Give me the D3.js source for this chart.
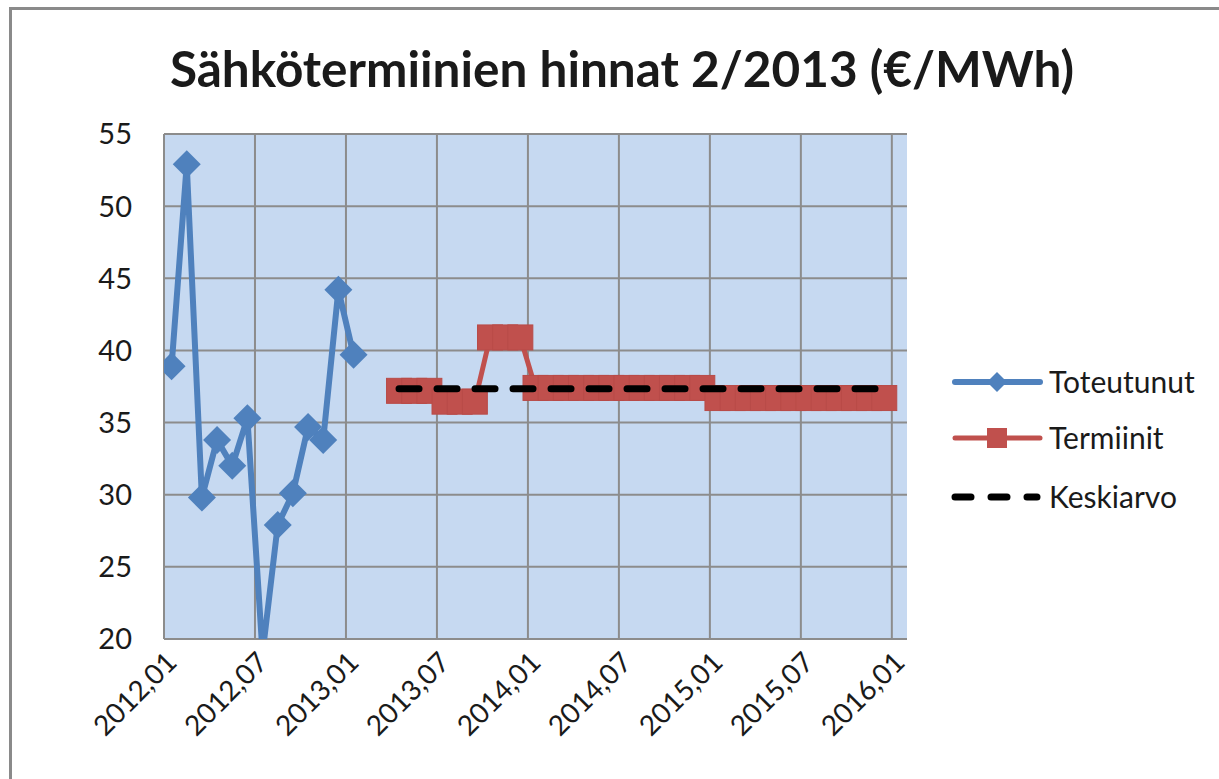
<!DOCTYPE html>
<meta charset="utf-8">
<title>Sähkötermiinien hinnat 2/2013</title>
<style>
  body { margin: 0; background: #fff; }
  text { font-family: Lato, "Open Sans", sans-serif; fill: #1a1a1a; }
  .grid line { stroke: #8c8c8c; stroke-width: 2px; }
</style>
<body>
<svg width="1219" height="779"></svg>
<script src="https://d3js.org/d3.v7.min.js"></script>
<script>
  // monthly categories on the x axis
  var firstMonth = new Date(2012, 0, 1),
      lastMonth = new Date(2016, 0, 1);
  var tickLabels = ["2012,01", "2012,07", "2013,01", "2013,07", "2014,01",
                    "2014,07", "2015,01", "2015,07", "2016,01"];
  var yTicks = [20, 25, 30, 35, 40, 45, 50, 55];

  // Toteutunut: realised monthly price, from 2012,01
  var toteutunutStart = new Date(2012, 0, 1);
  var toteutunut = [38.9, 52.9, 29.8, 33.8, 32.0, 35.3, 19.0, 27.9, 30.1, 34.7, 33.8, 44.2, 39.7];

  // Termiinit: forward prices per month, from 2013,04
  var termiinitStart = new Date(2013, 3, 1);
  var termiinit = [37.2, 37.2, 37.2,
                   36.45, 36.45, 36.45,
                   40.9, 40.9, 40.9,
                   37.4, 37.4, 37.4, 37.4, 37.4, 37.4, 37.4, 37.4, 37.4, 37.4, 37.4, 37.4,
                   36.7, 36.7, 36.7, 36.7, 36.7, 36.7, 36.7, 36.7, 36.7, 36.7, 36.7, 36.7];

  // Keskiarvo: average level over the forward months
  var keskiarvo = 37.35;

  var seriesNames = ["Toteutunut", "Termiinit", "Keskiarvo"];
  var blue = "#4f81bd", red = "#c0504d";

  var svg = d3.select("svg");

  // outer chart border
  svg.append("rect")
    .attr("x", 10.5).attr("y", 8.5)
    .attr("width", 1300).attr("height", 900)
    .attr("fill", "none")
    .attr("stroke", "#8a8a8a")
    .attr("stroke-width", 3);

  var plot = { left: 164, right: 907, top: 134, bottom: 639 };

  var months = d3.timeMonths(firstMonth, d3.timeMonth.offset(lastMonth, 1));
  var key = d3.timeFormat("%Y-%m");

  var x = d3.scaleBand()
    .domain(months.map(key))
    .range([plot.left, plot.right])
    .padding(0);
  var xc = function (d) { return x(key(d)) + x.bandwidth() / 2; };

  var y = d3.scaleLinear()
    .domain([20, 55])
    .range([plot.bottom, plot.top]);

  // plot background
  svg.append("rect")
    .attr("x", plot.left).attr("y", plot.top)
    .attr("width", plot.right - plot.left)
    .attr("height", plot.bottom - plot.top)
    .attr("fill", "#c6d9f1");

  var grid = svg.append("g").attr("class", "grid");

  grid.selectAll(".h")
    .data(yTicks)
    .enter().append("line")
    .attr("x1", plot.left).attr("x2", plot.right)
    .attr("y1", d => y(d)).attr("y2", d => y(d));

  var tickMonths = months.filter(function (d, i) { return i % 6 === 0; });

  grid.selectAll(".v")
    .data(tickMonths)
    .enter().append("line")
    .attr("x1", d => x(key(d))).attr("x2", d => x(key(d)))
    .attr("y1", plot.top).attr("y2", plot.bottom);

  // y labels
  svg.append("g").selectAll("text")
    .data(yTicks)
    .enter().append("text")
    .attr("x", 132)
    .attr("y", d => y(d))
    .attr("dy", "0.36em")
    .attr("text-anchor", "end")
    .style("font-size", "29px")
    .text(d => d);

  // x labels, rotated
  svg.append("g").selectAll("text")
    .data(tickMonths)
    .enter().append("text")
    .attr("transform", (d, i) => "translate(" + (xc(d) + 7) + ",664) rotate(-45)")
    .attr("text-anchor", "end")
    .style("font-size", "28px")
    .text((d, i) => tickLabels[i]);

  svg.append("clipPath").attr("id", "clip")
    .append("rect")
    .attr("x", plot.left).attr("y", plot.top)
    .attr("width", plot.right - plot.left)
    .attr("height", plot.bottom - plot.top);

  // Toteutunut
  var totData = toteutunut.map(function (v, i) {
    return { m: d3.timeMonth.offset(toteutunutStart, i), v: v };
  });
  var line = d3.line().x(d => xc(d.m)).y(d => y(d.v));
  var diamond = function (s) { return "M0," + (-s) + "L" + s + ",0L0," + s + "L" + (-s) + ",0Z"; };

  var gTot = svg.append("g").attr("clip-path", "url(#clip)");
  gTot.append("path")
    .datum(totData)
    .attr("d", line)
    .attr("fill", "none")
    .attr("stroke", blue)
    .attr("stroke-width", 6)
    .attr("stroke-linejoin", "round");
  gTot.selectAll(".dm")
    .data(totData)
    .enter().append("path")
    .attr("transform", d => "translate(" + xc(d.m) + "," + y(d.v) + ")")
    .attr("d", diamond(14))
    .attr("fill", blue);

  // Termiinit
  var terData = termiinit.map(function (v, i) {
    return { m: d3.timeMonth.offset(termiinitStart, i), v: v };
  });
  svg.append("path")
    .datum(terData)
    .attr("d", line)
    .attr("fill", "none")
    .attr("stroke", red)
    .attr("stroke-width", 5);
  svg.selectAll(".sq")
    .data(terData)
    .enter().append("rect")
    .attr("x", d => xc(d.m) - 12.5)
    .attr("y", d => y(d.v) - 12.5)
    .attr("width", 25).attr("height", 25)
    .attr("fill", red)
    .attr("stroke", "#b84b48")
    .attr("stroke-width", 1);

  // Keskiarvo
  svg.append("line")
    .attr("x1", xc(terData[0].m))
    .attr("x2", xc(terData[terData.length - 1].m))
    .attr("y1", y(keskiarvo)).attr("y2", y(keskiarvo))
    .attr("stroke", "#000")
    .attr("stroke-width", 7)
    .attr("stroke-linecap", "round")
    .attr("stroke-dasharray", "20,18");

  // legend
  var legY = [382, 438, 497];
  var leg = svg.append("g");
  leg.append("line").attr("x1", 955).attr("x2", 1040).attr("y1", legY[0]).attr("y2", legY[0])
    .attr("stroke", blue).attr("stroke-width", 6).attr("stroke-linecap", "round");
  leg.append("path").attr("transform", "translate(997," + legY[0] + ")").attr("d", diamond(10)).attr("fill", blue);
  leg.append("line").attr("x1", 955).attr("x2", 1040).attr("y1", legY[1]).attr("y2", legY[1])
    .attr("stroke", red).attr("stroke-width", 5).attr("stroke-linecap", "round");
  leg.append("rect").attr("x", 987).attr("y", legY[1] - 10).attr("width", 20).attr("height", 20).attr("fill", red);
  leg.append("line").attr("x1", 955).attr("x2", 1037).attr("y1", legY[2]).attr("y2", legY[2])
    .attr("stroke", "#000").attr("stroke-width", 7).attr("stroke-linecap", "round")
    .attr("stroke-dasharray", "16,20");
  leg.selectAll("text")
    .data(seriesNames)
    .enter().append("text")
    .attr("x", 1049)
    .attr("y", (d, i) => legY[i])
    .attr("dy", "0.36em")
    .style("font-size", "30px")
    .text(d => d);

  // title
  svg.append("text")
    .attr("x", 622)
    .attr("y", 87)
    .attr("text-anchor", "middle")
    .style("font-size", "49.5px")
    .style("font-weight", "bold")
    .text("Sähkötermiinien hinnat 2/2013 (€/MWh)");
</script>
</body>
